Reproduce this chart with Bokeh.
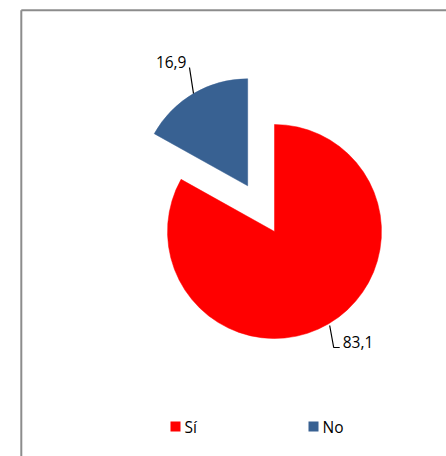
import math
from bokeh.plotting import figure
from bokeh.models import Range1d
from bokeh.core.properties import value
from bokeh.embed import file_html
from bokeh.resources import INLINE

# ---- data ----
categories = ["Sí", "No"]
values = [83.1, 16.9]
labels = ["83,1", "16,9"]
colors = ["#FF0000", "#386192"]

W, H = 446, 456
p = figure(width=W, height=H, output_backend="svg", toolbar_location=None,
           x_range=Range1d(0, W), y_range=Range1d(0, H), min_border=0)
p.axis.visible = False
p.grid.visible = False
p.outline_line_color = None
p.background_fill_color = "white"
p.border_fill_color = "white"

FONT = value("Open Sans")
FS = "15.5px"

# chart-area border (extends past right / bottom edge)
p.segment(x0=[20.8, 20.8], y0=[446.2, 446.2], x1=[W + 5, 20.8], y1=[446.2, -5],
          line_color="#8c8c8c", line_width=2)

# pie geometry
cx, cy, r = 274, 225, 107
explode = 53
total = sum(values)
start = math.pi / 2
ang_si = 2 * math.pi * values[0] / total
ang_no = 2 * math.pi * values[1] / total

# Sí slice (clockwise from 90°)
si_start = start - ang_si
si_end = start
p.wedge(x=[cx], y=[cy], radius=r, start_angle=[si_start], end_angle=[si_end],
        direction="anticlock", fill_color=colors[0], line_color=colors[0], line_width=0.5)

# No slice (exploded)
no_start = start
no_end = start + ang_no
mid_no = (no_start + no_end) / 2
ncx = cx + explode * math.cos(mid_no)
ncy = cy + explode * math.sin(mid_no)
p.wedge(x=[ncx], y=[ncy], radius=r, start_angle=[no_start], end_angle=[no_end],
        direction="anticlock", fill_color=colors[1], line_color=colors[1], line_width=0.5)

# data labels with leader lines
mid_si = (si_start + si_end) / 2
ax, ay = ncx + r * math.cos(mid_no), ncy + r * math.sin(mid_no)
p.line(x=[ax, ax - 4], y=[ay, ay + 26], line_color="black", line_width=1.2)
p.text(x=[ax - 7], y=[ay + 32], text=[labels[1]], text_font=FONT, text_font_size=FS,
       text_align="right", text_baseline="middle", text_color="black")
bx, by = cx + (r + 2) * math.cos(mid_si), cy + (r + 2) * math.sin(mid_si)
p.line(x=[bx, bx + 4, bx + 10], y=[by, by - 22, by - 22], line_color="black", line_width=1.2)
p.text(x=[bx + 13], y=[by - 17], text=[labels[0]], text_font=FONT, text_font_size=FS,
       text_align="left", text_baseline="middle", text_color="black")

# legend (manual)
leg_x = [175, 313]
leg_y = [30, 30]
p.scatter(x=leg_x, y=leg_y, marker="square", size=10, fill_color=colors,
          line_color=None)
p.text(x=[v + 9 for v in leg_x], y=leg_y, text=categories, text_font=FONT,
       text_font_size=FS, text_align="left", text_baseline="middle", text_color="black")

open("out.html", "w").write(file_html(p, INLINE))
